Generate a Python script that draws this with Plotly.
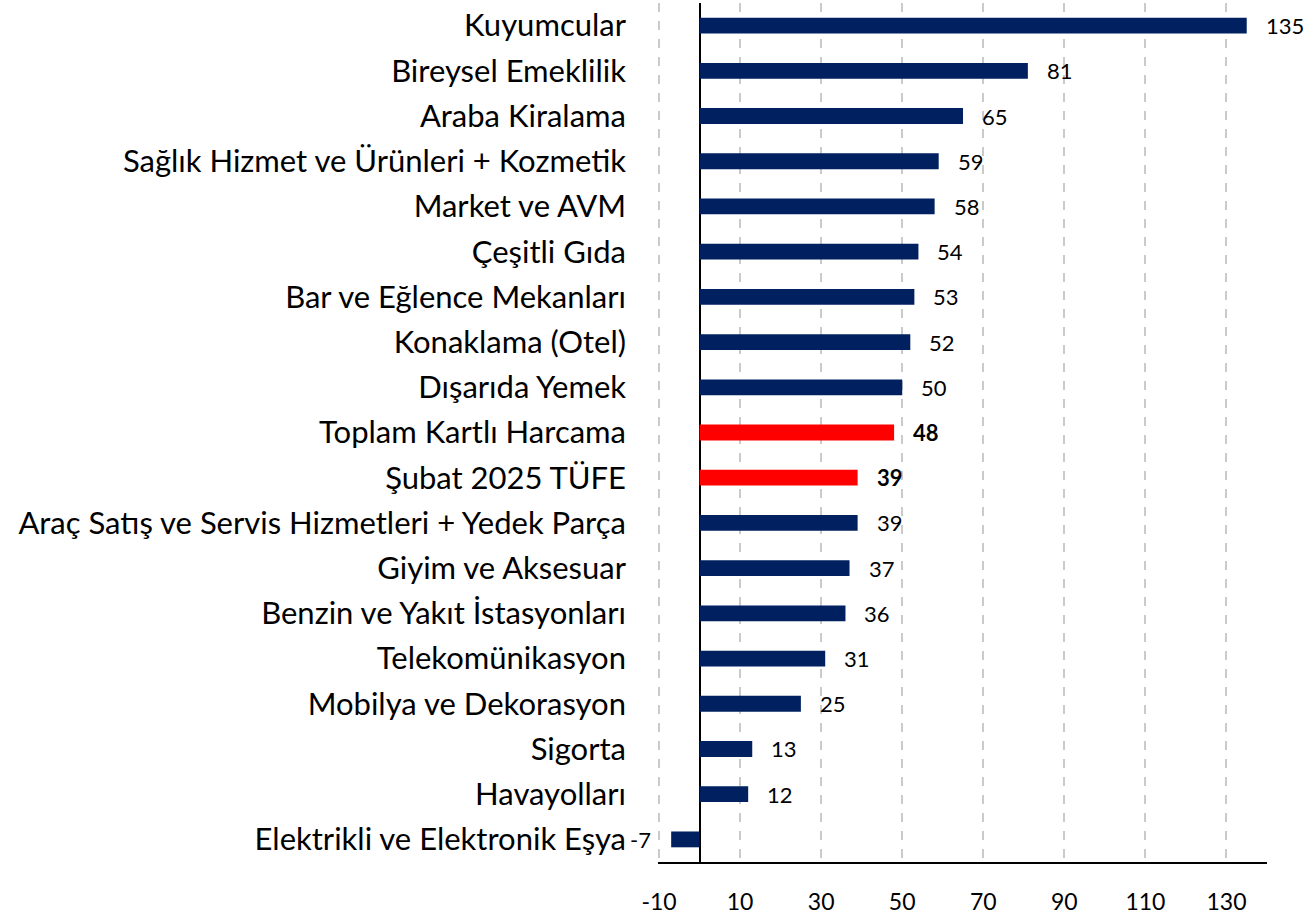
import plotly.graph_objects as go

categories = [
    "Kuyumcular", "Bireysel Emeklilik", "Araba Kiralama",
    "Sağlık Hizmet ve Ürünleri + Kozmetik", "Market ve AVM", "Çeşitli Gıda",
    "Bar ve Eğlence Mekanları", "Konaklama (Otel)", "Dışarıda Yemek",
    "Toplam Kartlı Harcama", "Şubat 2025 TÜFE",
    "Araç Satış ve Servis Hizmetleri + Yedek Parça", "Giyim ve Aksesuar",
    "Benzin ve Yakıt İstasyonları", "Telekomünikasyon", "Mobilya ve Dekorasyon",
    "Sigorta", "Havayolları", "Elektrikli ve Elektronik Eşya",
]
values = [135, 81, 65, 59, 58, 54, 53, 52, 50, 48, 39, 39, 37, 36, 31, 25, 13, 12, -7]
highlight = ["Toplam Kartlı Harcama", "Şubat 2025 TÜFE"]
tick_values = [-10, 10, 30, 50, 70, 90, 110, 130]

NAVY = "#002060"
RED = "#FF0000"
FONT = "Lato"

colors = [RED if c in highlight else NAVY for c in categories]

fig = go.Figure(go.Bar(
    x=values, y=categories, orientation="h",
    marker=dict(color=colors, line=dict(width=0)),
    hoverinfo="skip",
))

for c, v in zip(categories, values):
    bold = c in highlight
    fig.add_annotation(
        x=v, y=c, xref="x", yref="y",
        text=f"<b>{v}</b>" if bold else str(v),
        showarrow=False,
        xanchor="left" if v >= 0 else "right",
        xshift=17 if v >= 0 else -18,
        font=dict(family=FONT, size=22, color="black"),
    )

fig.update_layout(
    width=1311, height=915,
    margin=dict(l=658, r=44, t=3, b=53, autoexpand=False),
    plot_bgcolor="white", paper_bgcolor="white",
    bargap=0.65, showlegend=False,
    font=dict(family=FONT, color="black"),
)
fig.update_xaxes(
    range=[-10.25, 140], tickvals=tick_values, ticktext=[str(t) for t in tick_values],
    showgrid=True, gridcolor="#CACACA", griddash="dash", gridwidth=2,
    zeroline=True, zerolinecolor="black", zerolinewidth=2,
    showline=True, linecolor="black", linewidth=2,
    ticks="", tickfont=dict(family=FONT, size=23, color="black"),
    ticklabelstandoff=18, automargin=False,
)
fig.update_yaxes(
    autorange="reversed", showgrid=False, showline=False, zeroline=False,
    ticks="", tickfont=dict(family=FONT, size=31, color="black"),
    ticklabelstandoff=31, automargin=False,
)

fig.write_html(
    "out.html",
    config={"displayModeBar": False},
    post_script="document.body.style.margin='0';document.body.style.overflow='hidden';",
)
